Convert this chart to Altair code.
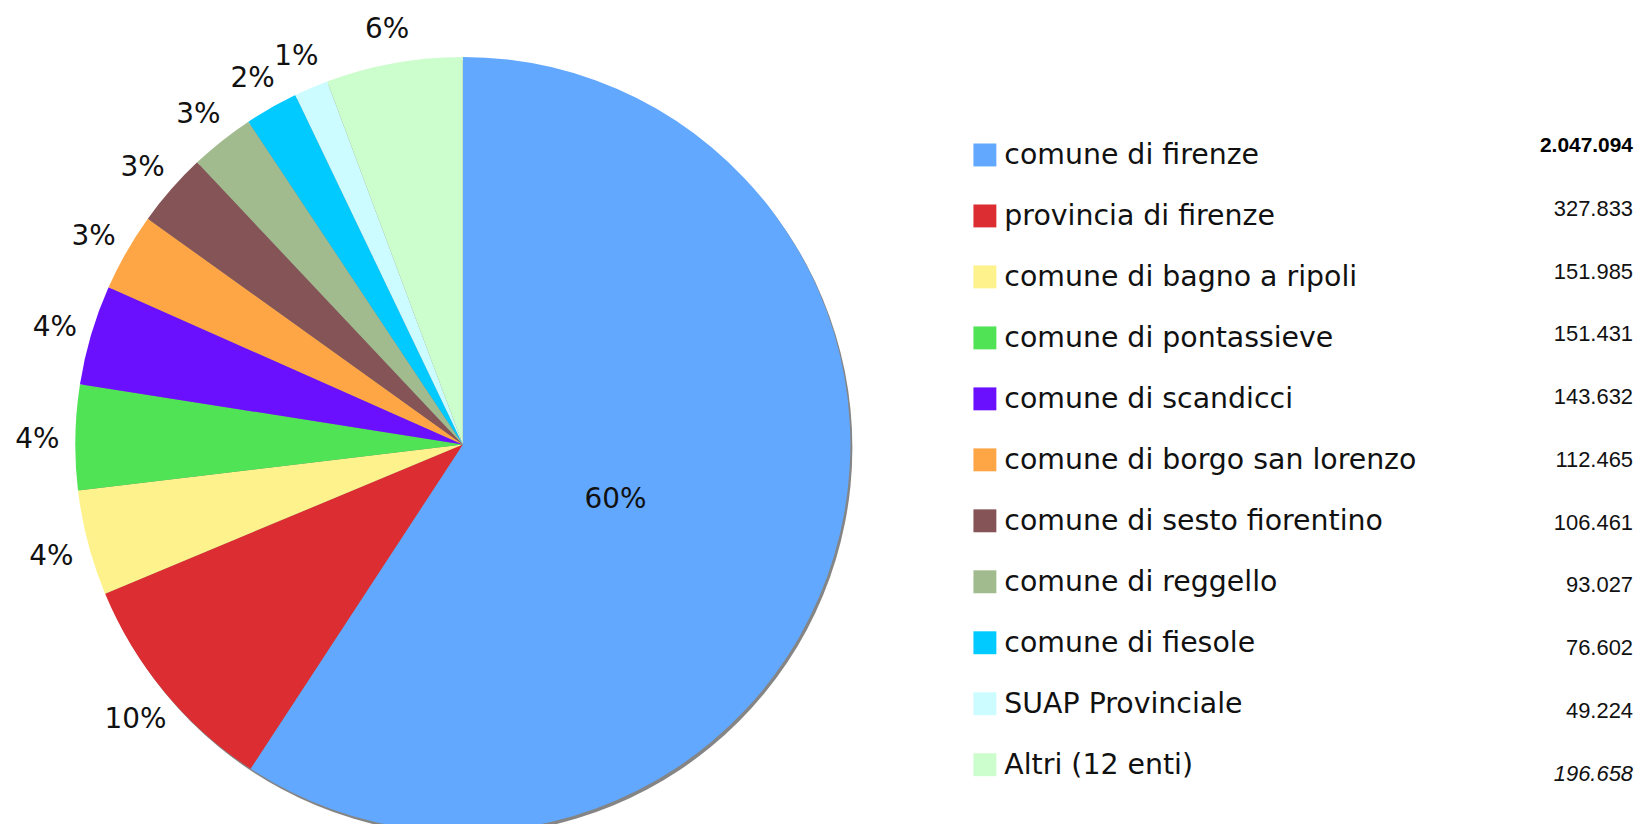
import math
import altair as alt
import pandas as pd

enti = [
    "comune di firenze",
    "provincia di firenze",
    "comune di bagno a ripoli",
    "comune di pontassieve",
    "comune di scandicci",
    "comune di borgo san lorenzo",
    "comune di sesto fiorentino",
    "comune di reggello",
    "comune di fiesole",
    "SUAP Provinciale",
    "Altri (12 enti)",
]
valori = [2047094, 327833, 151985, 151431, 143632, 112465, 106461, 93027, 76602, 49224, 196658]
valori_txt = ["2.047.094", "327.833", "151.985", "151.431", "143.632", "112.465",
              "106.461", "93.027", "76.602", "49.224", "196.658"]
percentuali = ["60%", "10%", "4%", "4%", "4%", "3%", "3%", "3%", "2%", "1%", "6%"]
colori = ["#62a8ff", "#dc2d32", "#fef28c", "#50e356", "#6a10ff", "#fea546",
          "#855457", "#a2bb8e", "#00caff", "#ccfcff", "#ccfdcc"]

df = pd.DataFrame({
    "ente": enti,
    "valore": valori,
    "valore_txt": valori_txt,
    "perc": percentuali,
    "ordine": list(range(len(enti))),
})

CX, CY, R = 456.5, 436.6, 389
FONT = "DejaVu Sans"
VFONT = "Liberation Sans"

color = alt.Color("ente:N", scale=alt.Scale(domain=enti, range=colori), legend=None)

shadow = alt.Chart(pd.DataFrame({"k": [0]})).mark_arc(
    radius=R, theta=0, theta2=2 * math.pi, color="#858585"
).encode(x=alt.value(CX + 2), y=alt.value(CY + 3))

base = alt.Chart(df).encode(
    theta=alt.Theta("valore:Q", stack=True),
    order=alt.Order("ordine:Q", sort="ascending"),
)
pie = base.mark_arc(radius=R, stroke=None).encode(
    color=color, x=alt.value(CX), y=alt.value(CY)
)
lab_out = base.mark_text(
    radius=427, dy=4, font=FONT, fontSize=28, align="center", baseline="middle", color="#111111"
).encode(
    text=alt.condition("datum.ordine == 0", alt.value(""), alt.Text("perc:N")),
    x=alt.value(CX), y=alt.value(CY),
)
lab_in = base.mark_text(
    radius=160, dy=10, font=FONT, fontSize=28, align="center", baseline="middle", color="#111111"
).encode(
    text=alt.condition("datum.ordine == 0", alt.Text("perc:N"), alt.value("")),
    x=alt.value(CX), y=alt.value(CY),
)

n = len(enti) - 1
yl = alt.Y("ordine:Q", scale=alt.Scale(domain=[0, n], range=[146, 758], nice=False, zero=False), axis=None)
yv = alt.Y("ordine:Q", scale=alt.Scale(domain=[0, n], range=[137, 767], nice=False, zero=False), axis=None)

leg = alt.Chart(df)
swatch = leg.mark_square(size=529, opacity=1, filled=True, strokeWidth=0).encode(
    x=alt.value(980.5), y=yl, color=color
)
leg_txt = leg.mark_text(
    font=FONT, fontSize=28.5, align="left", baseline="middle", color="#111111"
).encode(x=alt.value(1000), y=yl, text="ente:N")

val_norm = leg.transform_filter("datum.ordine > 0 && datum.ordine < %d" % n).mark_text(
    font=VFONT, fontSize=22, align="right", baseline="middle", color="#111111"
).encode(x=alt.value(1631), y=yv, text="valore_txt:N")
val_bold = leg.transform_filter("datum.ordine == 0").mark_text(
    font=VFONT, fontSize=21, fontWeight="bold", align="right", baseline="middle", color="#000000"
).encode(x=alt.value(1631), y=yv, text="valore_txt:N")
val_it = leg.transform_filter("datum.ordine == %d" % n).mark_text(
    font=VFONT, fontSize=22, fontStyle="italic", align="right", baseline="middle", color="#111111"
).encode(x=alt.value(1631), y=yv, text="valore_txt:N")

chart = alt.layer(
    shadow, pie, lab_out, lab_in, swatch, leg_txt, val_norm, val_bold, val_it
).resolve_scale(y="independent").properties(
    width=1634, height=816, autosize="none", padding=0
).configure_view(stroke=None)

chart.save("out.html", embed_options={"renderer": "svg", "actions": False})
